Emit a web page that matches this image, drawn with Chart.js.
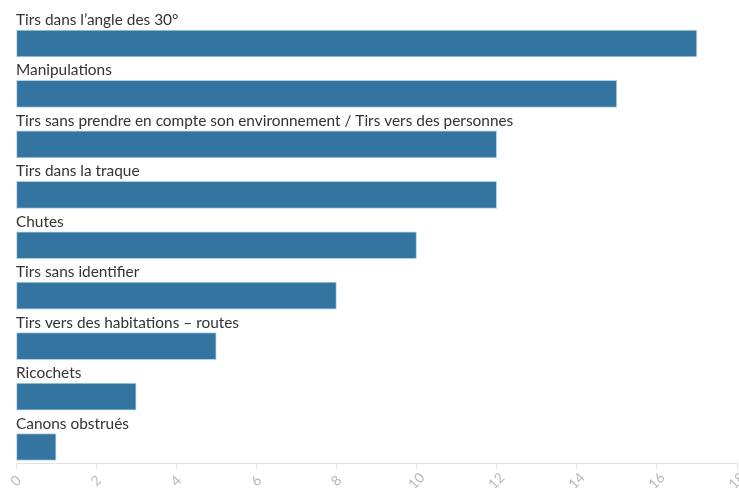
<!DOCTYPE html>
<html lang="fr">
<head>
  <title>Accidents de chasse</title>
  <meta charset="UTF-8">
  <script src="https://cdn.jsdelivr.net/npm/chart.js"></script>
  <style>
    html, body { margin: 0; padding: 0; background: #fff; }
    #wrap { width: 739px; height: 488px; }
  </style>
</head>
<body>
<div id="wrap"><canvas id="chart"></canvas></div>
<script>
  // data
  const categories = [
    "Tirs dans l\u2019angle des 30°",
    "Manipulations",
    "Tirs sans prendre en compte son environnement / Tirs vers des personnes",
    "Tirs dans la traque",
    "Chutes",
    "Tirs sans identifier",
    "Tirs vers des habitations \u2013 routes",
    "Ricochets",
    "Canons obstrués"
  ];
  const values = [17, 15, 12, 12, 10, 8, 5, 3, 1];
  const xTicks = [0, 2, 4, 6, 8, 10, 12, 14, 16, 18];

  const barColor = '#3375a0';
  const labelFont = '15.4px Lato';

  // category name above each bar
  const barLabels = {
    id: 'barLabels',
    afterDatasetsDraw(chart) {
      const ctx = chart.ctx;
      const meta = chart.getDatasetMeta(0);
      ctx.save();
      ctx.font = labelFont;
      ctx.fillStyle = '#333333';
      ctx.textAlign = 'left';
      ctx.textBaseline = 'alphabetic';
      meta.data.forEach((bar, i) => {
        const top = bar.y - bar.height / 2;
        ctx.fillText(categories[i], chart.chartArea.left, top - 5);
      });
      ctx.restore();
    }
  };

  // rotated x tick labels, centred on the tick
  const xLabels = {
    id: 'xLabels',
    afterDraw(chart) {
      const ctx = chart.ctx;
      const xs = chart.scales.x;
      ctx.save();
      ctx.font = '14px Lato';
      ctx.fillStyle = '#b8b8b8';
      ctx.textAlign = 'center';
      ctx.textBaseline = 'middle';
      xTicks.forEach(t => {
        ctx.save();
        ctx.translate(xs.getPixelForValue(t), chart.chartArea.bottom + 18);
        ctx.rotate(-Math.PI / 4);
        ctx.fillText(String(t), 0, 0);
        ctx.restore();
      });
      ctx.restore();
    }
  };

  new Chart(document.getElementById('chart'), {
    type: 'bar',
    data: {
      datasets: [{
        data: values.map((v, i) => ({ x: v, y: i })),
        backgroundColor: barColor,
        borderColor: '#b3d1e6',
        borderWidth: 1,
        borderSkipped: false,
        barThickness: 27
      }]
    },
    options: {
      indexAxis: 'y',
      responsive: true,
      maintainAspectRatio: false,
      animation: false,
      layout: { padding: { left: 16, right: 2, top: 0, bottom: 19 } },
      plugins: { legend: { display: false }, tooltip: { enabled: false } },
      scales: {
        y: {
          type: 'linear',
          reverse: true,
          offset: false,
          min: -0.862,
          max: 8.317,
          display: false
        },
        x: {
          type: 'linear',
          min: 0,
          max: 18,
          ticks: { display: false, stepSize: 2 },
          grid: { drawOnChartArea: false, drawTicks: true, tickLength: 6, color: '#e3e3e3' },
          border: { color: '#e3e3e3', width: 1 }
        }
      }
    },
    plugins: [barLabels, xLabels]
  });
</script>
</body>
</html>
